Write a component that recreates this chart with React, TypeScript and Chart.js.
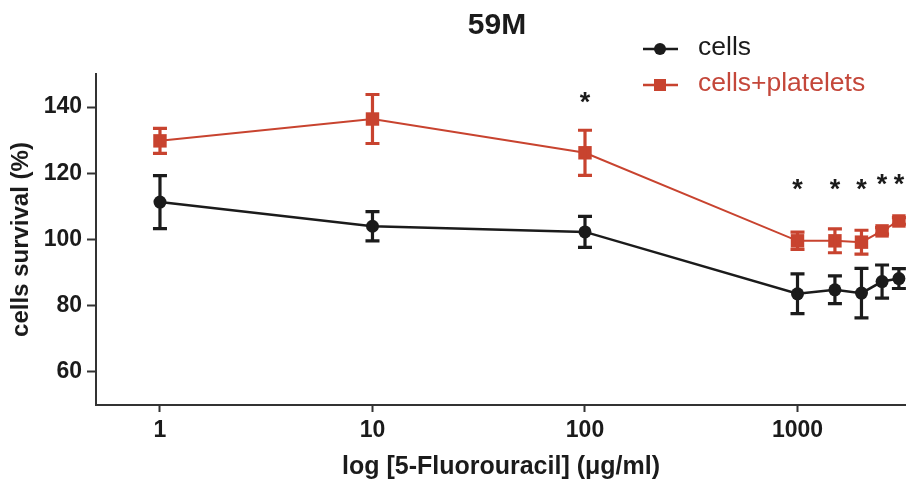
import React, { useEffect, useRef } from "react";
import { Chart, registerables } from "chart.js";

Chart.register(...registerables);

// ---- data ----
const doses = [1, 10, 100, 1000, 1500, 2000, 2500, 3000];
const cellsMean = [111.3, 104.0, 102.3, 83.6, 84.8, 83.8, 87.3, 88.2];
const cellsErr = [8.0, 4.4, 4.7, 6.0, 4.2, 7.5, 5.0, 3.0];
const plateletsMean = [129.8, 136.4, 126.2, 99.6, 99.6, 99.2, 102.6, 105.6];
const plateletsErr = [3.8, 7.4, 6.8, 2.6, 3.6, 3.6, 1.0, 1.0];
const xTicks = [1, 10, 100, 1000];
const xTickLabels = ["1", "10", "100", "1000"];
const yTicks = [60, 80, 100, 120, 140];
const yTickLabels = ["60", "80", "100", "120", "140"];
const starDoses = [100, 1000, 1500, 2000, 2500, 3000];
const starLevels = [143.3, 117, 117, 117, 118.5, 118.5];
const seriesNames = ["cells", "cells+platelets"];
const chartTitle = "59M";
const xTitle = "log [5-Fluorouracil] (\u03bcg/ml)";
const yTitle = "cells survival (%)";

// ---- styles ----
const BLACK = "#1b1b1b";
const RED = "#c8432f";
const AXIS = "#333333";
const FONT = "'Liberation Sans', Arial, Helvetica, sans-serif";
const W = 906;
const H = 484;

const errorBarsPlugin = {
  id: "errorBars",
  afterDatasetsDraw(chart: any) {
    const { ctx, scales } = chart;
    const xs = scales.x;
    const ys = scales.y;
    const sets = [
      { mean: cellsMean, err: cellsErr, color: BLACK },
      { mean: plateletsMean, err: plateletsErr, color: RED },
    ];
    ctx.save();
    sets.forEach((s) => {
      ctx.strokeStyle = s.color;
      ctx.lineWidth = 3.2;
      ctx.lineCap = "butt";
      doses.forEach((d, i) => {
        const x = xs.getPixelForValue(d);
        const yt = ys.getPixelForValue(s.mean[i] + s.err[i]);
        const yb = ys.getPixelForValue(s.mean[i] - s.err[i]);
        const cap = 7;
        ctx.beginPath();
        ctx.moveTo(x, yt);
        ctx.lineTo(x, yb);
        ctx.moveTo(x - cap, yt);
        ctx.lineTo(x + cap, yt);
        ctx.moveTo(x - cap, yb);
        ctx.lineTo(x + cap, yb);
        ctx.stroke();
      });
    });
    // significance stars
    ctx.fillStyle = BLACK;
    ctx.font = `bold 27px ${FONT}`;
    ctx.textAlign = "center";
    ctx.textBaseline = "alphabetic";
    starDoses.forEach((d, i) => {
      const x = xs.getPixelForValue(d);
      const y = ys.getPixelForValue(starLevels[i]);
      ctx.fillText("*", x, y + 15);
    });
    ctx.restore();
  },
};

const decorPlugin = {
  id: "decor",
  afterDraw(chart: any) {
    const { ctx } = chart;
    ctx.save();
    // title
    ctx.fillStyle = BLACK;
    ctx.font = `bold 30px ${FONT}`;
    ctx.textAlign = "center";
    ctx.textBaseline = "alphabetic";
    ctx.fillText(chartTitle, 497, 34);

    // legend
    const rows = [
      { y: 49, color: BLACK, shape: "circle", text: seriesNames[0], textColor: BLACK },
      { y: 85, color: RED, shape: "rect", text: seriesNames[1], textColor: "#c4473a" },
    ];
    rows.forEach((r) => {
      ctx.strokeStyle = r.color;
      ctx.fillStyle = r.color;
      ctx.lineWidth = 2.5;
      ctx.beginPath();
      ctx.moveTo(643, r.y);
      ctx.lineTo(678, r.y);
      ctx.stroke();
      if (r.shape === "circle") {
        ctx.beginPath();
        ctx.arc(660, r.y, 6, 0, Math.PI * 2);
        ctx.fill();
      } else {
        ctx.fillRect(654, r.y - 6, 12, 12);
      }
      ctx.fillStyle = r.textColor;
      ctx.font = `26.5px ${FONT}`;
      ctx.textAlign = "left";
      ctx.textBaseline = "alphabetic";
      ctx.fillText(r.text, 698, r.y + 6);
    });
    ctx.restore();
  },
};

export default function App() {
  const ref = useRef<HTMLCanvasElement | null>(null);

  useEffect(() => {
    if (!ref.current) return;
    const tickFont = { family: FONT, size: 23, weight: "bold" as const };
    const chart = new Chart(ref.current, {
      type: "line",
      data: {
        datasets: [
          {
            label: seriesNames[0],
            data: doses.map((d, i) => ({ x: d, y: cellsMean[i] })),
            borderColor: BLACK,
            backgroundColor: BLACK,
            borderWidth: 2.5,
            pointStyle: "circle",
            pointRadius: 6.5,
            pointBorderWidth: 0,
            pointBackgroundColor: BLACK,
            tension: 0,
            clip: false as any,
          },
          {
            label: seriesNames[1],
            data: doses.map((d, i) => ({ x: d, y: plateletsMean[i] })),
            borderColor: RED,
            backgroundColor: RED,
            borderWidth: 2,
            pointStyle: "rect",
            pointRadius: 9.5,
            pointBorderWidth: 0,
            pointBackgroundColor: RED,
            tension: 0,
            clip: false as any,
          },
        ],
      },
      options: {
        animation: false,
        responsive: false,
        maintainAspectRatio: false,
        layout: {
          autoPadding: false,
          padding: { top: 74, left: 0, right: 0, bottom: 0 },
        },
        plugins: {
          legend: { display: false },
          title: { display: false },
          tooltip: { enabled: false },
        },
        scales: {
          x: {
            type: "logarithmic",
            min: 0.5,
            max: 3240,
            afterBuildTicks: (s: any) => {
              s.ticks = xTicks.map((v) => ({ value: v }));
            },
            afterFit: (s: any) => {
              s.height = 79;
              s.paddingLeft = 0;
              s.paddingRight = 0;
            },
            ticks: {
              autoSkip: false,
              maxRotation: 0,
              padding: 5,
              color: BLACK,
              font: tickFont,
              callback: (_v: any, i: number) => xTickLabels[i],
            },
            grid: {
              display: true,
              drawOnChartArea: false,
              drawTicks: true,
              tickLength: 7,
              tickWidth: 2,
              tickColor: AXIS,
            },
            border: { display: true, color: AXIS, width: 2 },
            title: {
              display: true,
              text: xTitle,
              color: BLACK,
              font: { family: FONT, size: 25, weight: "bold" },
              padding: { top: 0, bottom: 2 },
            },
          },
          y: {
            type: "linear",
            min: 50,
            max: 150,
            afterBuildTicks: (s: any) => {
              s.ticks = yTicks.map((v) => ({ value: v }));
            },
            afterFit: (s: any) => {
              s.width = 96;
              s.paddingTop = 0;
              s.paddingBottom = 0;
            },
            ticks: {
              autoSkip: false,
              padding: 5,
              color: BLACK,
              font: tickFont,
              callback: (_v: any, i: number) => yTickLabels[i],
            },
            grid: {
              display: true,
              drawOnChartArea: false,
              drawTicks: true,
              tickLength: 9,
              tickWidth: 2,
              tickColor: AXIS,
            },
            border: { display: true, color: AXIS, width: 2 },
            title: {
              display: true,
              text: yTitle,
              color: BLACK,
              font: { family: FONT, size: 24, weight: "bold" },
              padding: { top: 7, bottom: 0 },
            },
          },
        },
      },
      plugins: [errorBarsPlugin, decorPlugin],
    });
    return () => chart.destroy();
  }, []);

  return (
    <div
      style={{
        position: "fixed",
        left: 0,
        top: 0,
        width: W,
        height: H,
        background: "#ffffff",
        overflow: "hidden",
      }}
    >
      <canvas ref={ref} width={W} height={H} style={{ display: "block" }} />
    </div>
  );
}
